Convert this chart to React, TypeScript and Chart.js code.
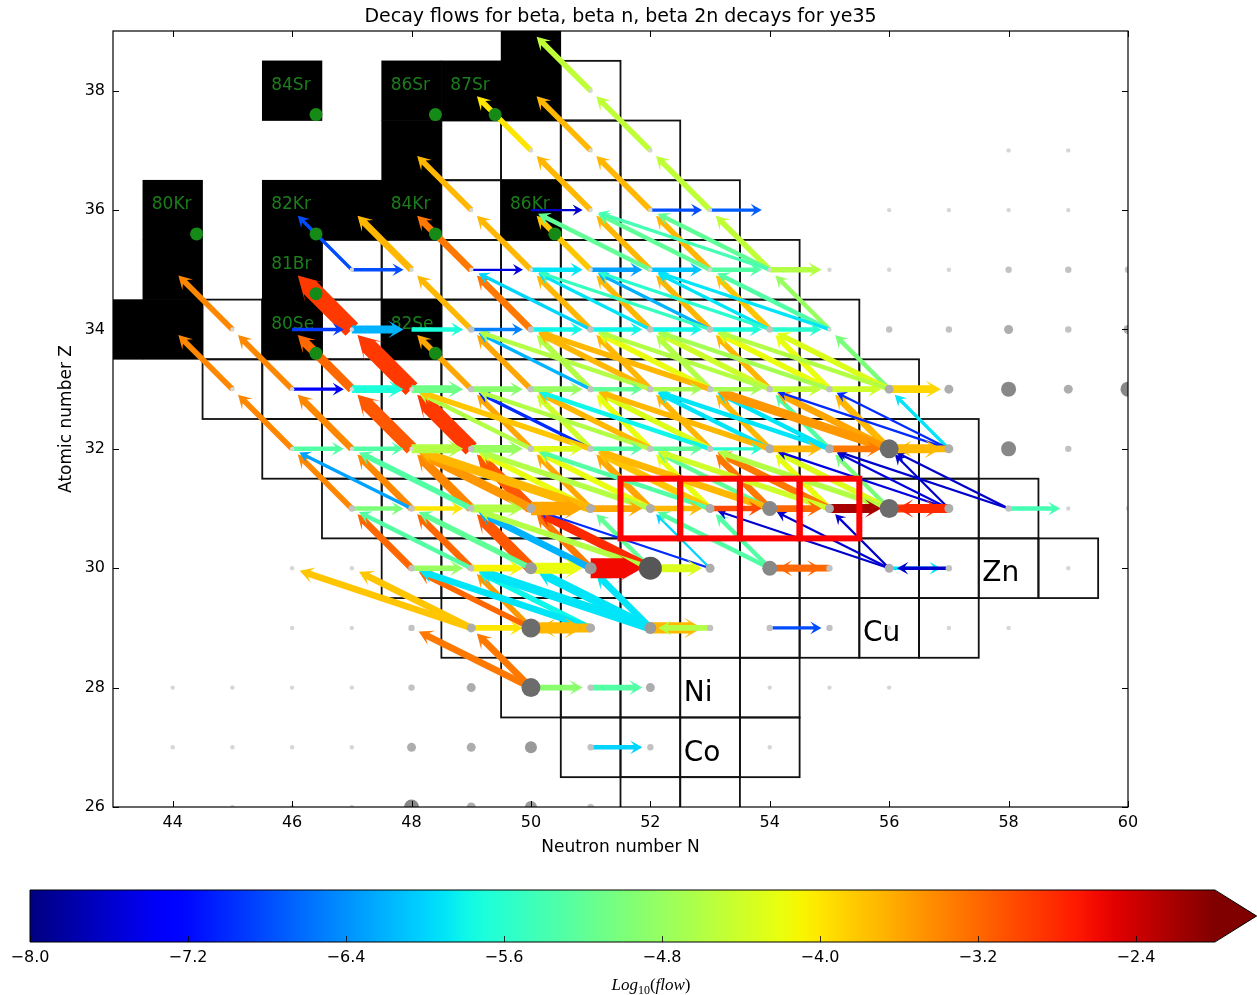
import React, { useEffect, useRef } from 'react';
import { Chart, registerables } from 'chart.js';
Chart.register(...registerables);

// ---------------- data ----------------
const X_MIN = 43, X_MAX = 60, Y_MIN = 26, Y_MAX = 39;
const X_TICKS = [44, 46, 48, 50, 52, 54, 56, 58, 60];
const Y_TICKS = [26, 28, 30, 32, 34, 36, 38];
const CB_MIN = -8, CB_MAX = -2;
const CB_TICKS = [-8.0, -7.2, -6.4, -5.6, -4.8, -4.0, -3.2, -2.4];

const TITLE = 'Decay flows for beta, beta n, beta 2n decays for ye35';
const X_TITLE = 'Neutron number N';
const Y_TITLE = 'Atomic number Z';

// stable nuclei (N, Z)
const STABLE_CELLS: number[][] = [
  [43, 34], [44, 34], [44, 35], [44, 36], [46, 34], [46, 35], [46, 36], [47, 36], [48, 36],
  [48, 37], [48, 38], [49, 38], [50, 38], [50, 39], [46, 38], [48, 34], [50, 36],
];
const STABLE_LABELS: [number, number, string][] = [
  [46, 38, '84Sr'], [48, 38, '86Sr'], [49, 38, '87Sr'], [44, 36, '80Kr'], [46, 36, '82Kr'],
  [48, 36, '84Kr'], [50, 36, '86Kr'], [46, 35, '81Br'], [46, 34, '80Se'], [48, 34, '82Se'],
];
const ELEMENT_LABELS: [number, number, string][] = [
  [58, 30, 'Zn'], [56, 29, 'Cu'], [53, 28, 'Ni'], [53, 27, 'Co'],
];
// network rows: Z, first N, last N
const BOX_ROWS: number[][] = [
  [38, 51, 51], [37, 49, 52], [36, 49, 53], [35, 47, 54], [34, 45, 55], [33, 45, 56], [32, 46, 57],
  [31, 47, 58], [30, 48, 59], [29, 49, 57], [28, 50, 54], [27, 51, 54], [26, 52, 53],
];
const HIGHLIGHT_CELLS: number[][] = [[52, 31], [53, 31], [54, 31], [55, 31]];

// flows: [N, Z, log10(flow), width]
const BETA: number[][] = [
  [51, 38, -4.5, 5],
  [52, 37, -4.5, 5], [51, 37, -3.7, 5], [50, 37, -4.0, 5],
  [53, 36, -4.5, 5], [52, 36, -3.7, 5], [51, 36, -3.7, 5], [49, 36, -3.7, 5],
  [54, 35, -4.5, 5], [53, 35, -3.7, 5], [52, 35, -3.7, 5], [51, 35, -3.8, 5], [50, 35, -3.7, 5], [49, 35, -3.3, 6], [48, 35, -3.7, 6], [47, 35, -6.8, 3],
  [55, 34, -4.8, 4], [54, 34, -3.8, 5], [53, 34, -3.7, 5], [52, 34, -3.7, 5], [51, 34, -3.7, 5], [50, 34, -3.3, 6], [49, 34, -3.7, 5], [47, 34, -2.9, 16], [45, 34, -3.4, 5],
  [56, 33, -5.0, 4], [55, 33, -4.2, 5], [54, 33, -3.7, 5], [53, 33, -4.6, 5], [52, 33, -3.7, 5], [51, 33, -4.6, 5], [50, 33, -3.6, 5], [49, 33, -3.6, 5], [48, 33, -2.9, 15], [47, 33, -3.2, 8], [46, 33, -3.4, 5], [45, 33, -3.4, 5],
  [57, 32, -5.9, 3], [56, 32, -3.7, 6], [55, 32, -5.3, 4], [54, 32, -3.7, 5], [53, 32, -3.7, 5], [52, 32, -4.2, 5], [51, 32, -4.4, 5], [50, 32, -3.6, 5], [49, 32, -2.9, 14], [48, 32, -3.1, 12], [47, 32, -3.4, 6], [46, 32, -3.4, 5],
  [57, 31, -7.6, 2], [56, 31, -5.0, 4], [55, 31, -4.2, 5], [54, 31, -3.3, 6], [53, 31, -4.2, 5], [52, 31, -3.6, 6], [51, 31, -3.6, 5], [50, 31, -3.1, 10], [49, 31, -3.4, 8], [48, 31, -3.4, 6], [47, 31, -3.4, 5],
  [56, 30, -7.6, 2], [54, 30, -5.3, 4], [53, 30, -6.0, 2], [52, 30, -5.2, 4], [51, 30, -3.3, 6], [50, 30, -3.1, 10], [49, 30, -3.2, 6], [48, 30, -3.2, 6],
  [52, 29, -5.9, 6], [50, 29, -3.5, 5],
  [50, 28, -3.3, 6],
];
const BETA_1N: number[][] = [
  [54, 35, -5.2, 4], [53, 35, -5.2, 4], [52, 35, -5.2, 4],
  [55, 34, -5.3, 4], [54, 34, -5.9, 3], [53, 34, -6.2, 3], [52, 34, -5.9, 3], [51, 34, -6.0, 3],
  [56, 33, -4.3, 5], [55, 33, -4.2, 5], [54, 33, -4.4, 5], [53, 33, -4.2, 5], [52, 33, -3.7, 5], [51, 33, -6.2, 3],
  [57, 32, -7.0, 2], [56, 32, -3.6, 6], [55, 32, -5.9, 4], [54, 32, -5.9, 4], [53, 32, -4.3, 5], [52, 32, -3.7, 5], [51, 32, -7.0, 3], [50, 32, -4.6, 4],
  [58, 31, -7.6, 2], [57, 31, -7.5, 2], [56, 31, -4.3, 5], [55, 31, -3.3, 6], [54, 31, -5.2, 4], [53, 31, -3.8, 6], [52, 31, -4.2, 5], [51, 31, -4.2, 5], [50, 31, -3.5, 8], [49, 31, -5.3, 5], [48, 31, -6.3, 3],
  [56, 30, -7.6, 2], [54, 30, -5.3, 4], [52, 30, -2.8, 8], [51, 30, -6.2, 6], [50, 30, -5.2, 5], [49, 30, -5.3, 4],
  [52, 29, -5.9, 8], [51, 29, -5.8, 5], [50, 29, -3.2, 5], [49, 29, -3.8, 6],
  [50, 28, -3.3, 6],
];
const BETA_2N: number[][] = [
  [54, 35, -5.4, 3],
  [55, 34, -5.9, 3], [54, 34, -5.6, 3], [53, 34, -5.5, 3],
  [56, 33, -4.6, 4], [55, 33, -4.7, 4], [54, 33, -4.6, 4], [53, 33, -3.7, 5], [52, 33, -4.6, 4],
  [57, 32, -7.0, 2], [56, 32, -3.5, 8], [55, 32, -5.9, 4], [54, 32, -3.7, 5], [53, 32, -5.8, 4], [52, 32, -4.6, 4], [51, 32, -3.8, 5],
  [58, 31, -7.6, 2], [57, 31, -7.5, 2], [56, 31, -4.6, 5], [55, 31, -4.4, 5], [54, 31, -3.7, 6], [53, 31, -5.3, 4], [52, 31, -4.6, 5], [51, 31, -3.7, 8],
  [56, 30, -7.6, 2], [53, 30, -7.0, 2], [52, 30, -4.6, 5],
  [52, 29, -5.9, 8], [51, 29, -5.9, 6], [49, 29, -3.8, 6],
];
const N_RIGHT: number[][] = [
  [50, 36, -7.6, 2], [52, 36, -6.8, 3], [53, 36, -6.7, 3],
  [47, 35, -6.8, 3], [49, 35, -7.5, 2], [50, 35, -5.9, 4], [51, 35, -6.3, 4], [52, 35, -6.1, 4], [53, 35, -5.3, 4], [54, 35, -4.6, 5],
  [46, 34, -6.9, 3], [47, 34, -6.2, 7], [48, 34, -5.7, 4], [49, 34, -6.5, 3], [50, 34, -5.8, 4], [51, 34, -5.8, 4], [52, 34, -5.8, 4], [53, 34, -5.7, 4], [54, 34, -5.6, 4],
  [46, 33, -7.3, 3], [47, 33, -5.7, 7], [48, 33, -5.1, 7], [49, 33, -4.9, 5], [50, 33, -4.8, 5], [51, 33, -5.2, 4], [52, 33, -4.7, 4], [53, 33, -4.7, 4], [54, 33, -4.5, 5], [55, 33, -4.4, 5], [56, 33, -3.9, 7],
  [46, 32, -5.3, 4], [47, 32, -5.3, 4], [48, 32, -4.6, 8], [49, 32, -4.8, 7], [50, 32, -4.3, 5], [51, 32, -5.3, 4], [52, 32, -5.2, 4], [53, 32, -5.6, 3], [54, 32, -3.7, 6], [55, 32, -3.3, 6], [56, 32, -3.7, 8],
  [47, 31, -5.0, 4], [48, 31, -4.0, 4], [49, 31, -4.6, 7], [50, 31, -3.6, 12], [51, 31, -3.6, 6], [52, 31, -3.7, 5], [53, 31, -3.0, 5], [54, 31, -3.2, 6], [55, 31, -2.2, 8], [56, 31, -2.9, 7], [58, 31, -5.4, 4],
  [48, 30, -4.8, 5], [49, 30, -4.1, 6], [50, 30, -4.2, 10], [51, 30, -2.6, 18], [52, 30, -4.3, 7], [54, 30, -3.2, 6], [56, 30, -5.9, 3],
  [49, 29, -4.0, 5], [50, 29, -3.7, 10], [52, 29, -3.7, 10], [54, 29, -6.8, 3],
  [50, 28, -4.9, 5], [51, 28, -5.3, 5],
  [51, 27, -6.0, 4],
];
const N_LEFT: number[][] = [
  [57, 32, -3.7, 6], [57, 31, -2.8, 8], [55, 30, -3.2, 6], [57, 30, -7.6, 3], [51, 29, -3.7, 8], [53, 29, -4.6, 5],
];

// abundance dots: [N, Z, size level]
const DOTS: number[][] = [
  [51, 38, 1], [50, 37, 1], [51, 37, 1], [52, 37, 1], [58, 37, 1], [59, 37, 1],
  [49, 36, 1], [51, 36, 1], [52, 36, 1], [53, 36, 1], [56, 36, 1], [57, 36, 1], [58, 36, 1], [59, 36, 1],
  [47, 35, 1], [48, 35, 1], [49, 35, 1], [50, 35, 1], [51, 35, 1], [52, 35, 1], [53, 35, 1], [54, 35, 1],
  [55, 35, 1], [56, 35, 1], [57, 35, 1], [58, 35, 2], [59, 35, 2], [60, 35, 2],
  [45, 34, 1], [47, 34, 1], [49, 34, 2], [50, 34, 2], [51, 34, 2], [52, 34, 2], [53, 34, 2], [54, 34, 2],
  [55, 34, 1], [56, 34, 2], [57, 34, 2], [58, 34, 3], [59, 34, 2], [60, 34, 3],
  [45, 33, 1], [46, 33, 1], [47, 33, 1], [48, 33, 1], [49, 33, 2], [50, 33, 2], [51, 33, 2], [52, 33, 2],
  [53, 33, 2], [54, 33, 2], [55, 33, 2], [56, 33, 3], [57, 33, 3], [58, 33, 5], [59, 33, 3], [60, 33, 5],
  [46, 32, 1], [47, 32, 1], [48, 32, 1], [49, 32, 2], [50, 32, 2], [51, 32, 2], [52, 32, 2], [53, 32, 2],
  [54, 32, 3], [55, 32, 3], [56, 32, 6], [57, 32, 3], [58, 32, 5], [59, 32, 2],
  [47, 31, 2], [48, 31, 2], [49, 31, 2], [50, 31, 3], [51, 31, 3], [52, 31, 3], [53, 31, 3], [54, 31, 5],
  [55, 31, 3], [56, 31, 6], [57, 31, 3], [58, 31, 2], [59, 31, 1], [60, 31, 1],
  [46, 30, 1], [47, 30, 1], [48, 30, 2], [49, 30, 2], [50, 30, 4], [51, 30, 4], [52, 30, 7], [53, 30, 3],
  [54, 30, 5], [55, 30, 2], [56, 30, 3], [57, 30, 2], [59, 30, 1],
  [46, 29, 1], [47, 29, 1], [48, 29, 2], [49, 29, 3], [50, 29, 6], [51, 29, 3], [52, 29, 4], [53, 29, 2],
  [54, 29, 2], [55, 29, 2], [56, 29, 1], [57, 29, 1], [58, 29, 1],
  [44, 28, 1], [45, 28, 1], [46, 28, 1], [47, 28, 1], [48, 28, 2], [49, 28, 3], [50, 28, 6], [51, 28, 2],
  [52, 28, 3], [54, 28, 1], [55, 28, 1], [56, 28, 1],
  [44, 27, 1], [45, 27, 1], [46, 27, 1], [47, 27, 1], [48, 27, 3], [49, 27, 3], [50, 27, 4], [51, 27, 2],
  [52, 27, 2], [54, 27, 1],
  [45, 26, 1], [46, 26, 1], [47, 26, 1], [48, 26, 5], [49, 26, 3], [50, 26, 4], [51, 26, 2],
];

// ---------------- styles ----------------
const FONT = "'DejaVu Sans', 'Liberation Sans', sans-serif";
const DOT_R = [0, 2.2, 3.2, 4.5, 6, 7.5, 9.5, 11.5];
const DOT_C = ['#fff', '#d6d6d6', '#c2c2c2', '#adadad', '#9a9a9a', '#888888', '#6c6c6c', '#575757'];
const SHAFT_SCALE = 1.12;

function seg(t: number, xs: number[], ys: number[]) {
  if (t <= xs[0]) return ys[0];
  for (let i = 1; i < xs.length; i++) {
    if (t <= xs[i]) {
      const f = (t - xs[i - 1]) / (xs[i] - xs[i - 1]);
      return ys[i - 1] + f * (ys[i] - ys[i - 1]);
    }
  }
  return ys[ys.length - 1];
}
function jet(t: number) {
  t = Math.max(0, Math.min(1, t));
  const r = seg(t, [0, 0.35, 0.66, 0.89, 1], [0, 0, 1, 1, 0.5]);
  const g = seg(t, [0, 0.125, 0.375, 0.64, 0.91, 1], [0, 0, 1, 1, 0, 0]);
  const b = seg(t, [0, 0.11, 0.34, 0.65, 1], [0.5, 1, 1, 0, 0]);
  return `rgb(${Math.round(r * 255)},${Math.round(g * 255)},${Math.round(b * 255)})`;
}
function flowColor(v: number) {
  return jet((v - CB_MIN) / (CB_MAX - CB_MIN));
}

function drawArrow(ctx: CanvasRenderingContext2D, x0: number, y0: number, x1: number, y1: number, width: number, color: string) {
  const w = width * SHAFT_SCALE;
  const dx = x1 - x0, dy = y1 - y0;
  const L = Math.hypot(dx, dy);
  const ux = dx / L, uy = dy / L;
  const nx = -uy, ny = ux;
  const gap = 8;
  const tx = x1 - ux * gap, ty = y1 - uy * gap;
  const hw = width * 1.2 + 9;
  const hl = hw * 0.88;
  const notch = hl * 0.7;
  const bx = tx - ux * hl, by = ty - uy * hl;
  const sx = tx - ux * notch, sy = ty - uy * notch;
  ctx.fillStyle = color;
  ctx.beginPath();
  ctx.moveTo(x0 + nx * w / 2, y0 + ny * w / 2);
  ctx.lineTo(sx + nx * w / 2, sy + ny * w / 2);
  ctx.lineTo(bx + nx * hw / 2, by + ny * hw / 2);
  ctx.lineTo(tx, ty);
  ctx.lineTo(bx - nx * hw / 2, by - ny * hw / 2);
  ctx.lineTo(sx - nx * w / 2, sy - ny * w / 2);
  ctx.lineTo(x0 - nx * w / 2, y0 - ny * w / 2);
  ctx.closePath();
  ctx.fill();
}

const mapPlugin = {
  id: 'nuclideMap',
  beforeDatasetsDraw(chart: any) {
    const { ctx, chartArea: a, scales } = chart;
    const xs = scales.x, ys = scales.y;
    const px = (n: number) => xs.getPixelForValue(n);
    const py = (z: number) => ys.getPixelForValue(z);
    const cell = (n: number, z: number) => {
      const l = px(n - 0.5), r = px(n + 0.5), t = py(z + 0.5), b = py(z - 0.5);
      return [l, t, r - l, b - t];
    };
    ctx.save();
    ctx.beginPath();
    ctx.rect(a.left, a.top, a.right - a.left, a.bottom - a.top);
    ctx.clip();

    // network boxes
    ctx.strokeStyle = '#111';
    ctx.lineWidth = 1.8;
    for (const [z, n0, n1] of BOX_ROWS) {
      for (let n = n0; n <= n1; n++) {
        const [l, t, w, h] = cell(n, z);
        ctx.strokeRect(l, t, w, h);
      }
    }
    // stable nuclei
    ctx.fillStyle = '#000';
    for (const [n, z] of STABLE_CELLS) {
      const [l, t, w, h] = cell(n, z);
      ctx.fillRect(l - 0.3, t - 0.3, w + 0.6, h + 0.6);
    }
    ctx.font = `17px ${FONT}`;
    ctx.fillStyle = '#1c7d1c';
    ctx.textBaseline = 'middle';
    ctx.textAlign = 'left';
    for (const [n, z, s] of STABLE_LABELS) {
      ctx.fillText(s, px(n - 0.35), py(z + 0.09));
    }
    // element labels
    ctx.font = `28px ${FONT}`;
    ctx.fillStyle = '#000';
    for (const [n, z, s] of ELEMENT_LABELS) {
      ctx.fillText(s, px(n - 0.44), py(z - 0.1));
    }
    // flows
    const draw = (list: number[][], dn: number, dz: number) => {
      for (const [n, z, v, w] of list) {
        drawArrow(ctx, px(n), py(z), px(n + dn), py(z + dz), w, flowColor(v));
      }
    };
    draw(BETA, -1, 1);
    draw(BETA_1N, -2, 1);
    draw(BETA_2N, -3, 1);
    draw(N_RIGHT, 1, 0);
    draw(N_LEFT, -1, 0);
    // highlighted cells
    ctx.strokeStyle = '#ff0000';
    ctx.lineWidth = 6;
    for (const [n, z] of HIGHLIGHT_CELLS) {
      const [l, t, w, h] = cell(n, z);
      ctx.strokeRect(l, t, w, h);
    }
    ctx.restore();
  },
  afterDraw(chart: any) {
    const { ctx, chartArea: a, scales } = chart;
    const xs = scales.x, ys = scales.y;
    ctx.save();
    ctx.strokeStyle = '#000';
    ctx.lineWidth = 1.2;
    ctx.strokeRect(a.left, a.top, a.right - a.left, a.bottom - a.top);
    ctx.lineWidth = 1;
    ctx.beginPath();
    for (const v of X_TICKS) {
      const x = Math.round(xs.getPixelForValue(v)) + 0.5;
      ctx.moveTo(x, a.bottom); ctx.lineTo(x, a.bottom - 6);
      ctx.moveTo(x, a.top); ctx.lineTo(x, a.top + 6);
    }
    for (const v of Y_TICKS) {
      const y = Math.round(ys.getPixelForValue(v)) + 0.5;
      ctx.moveTo(a.left, y); ctx.lineTo(a.left + 6, y);
      ctx.moveTo(a.right, y); ctx.lineTo(a.right - 6, y);
    }
    ctx.stroke();
    ctx.fillStyle = '#000';
    ctx.textAlign = 'center';
    ctx.textBaseline = 'middle';
    ctx.font = `19px ${FONT}`;
    ctx.fillText(TITLE, (a.left + a.right) / 2, 17);
    ctx.font = `17px ${FONT}`;
    ctx.fillText(X_TITLE, (a.left + a.right) / 2, 848);
    ctx.translate(67, (a.top + a.bottom) / 2);
    ctx.rotate(-Math.PI / 2);
    ctx.fillText(Y_TITLE, 0, 0);
    ctx.restore();
  },
};

const colorbarPlugin = {
  id: 'colorbar',
  beforeDatasetsDraw(chart: any) {
    const { ctx, chartArea: a, scales } = chart;
    const xs = scales.x;
    ctx.save();
    const g = ctx.createLinearGradient(a.left, 0, a.right, 0);
    for (let i = 0; i <= 60; i++) g.addColorStop(i / 60, jet(i / 60));
    ctx.fillStyle = g;
    ctx.fillRect(a.left, a.top, a.right - a.left, a.bottom - a.top);
    const tipX = chart.width;
    const midY = (a.top + a.bottom) / 2;
    ctx.fillStyle = 'rgb(128,0,0)';
    ctx.beginPath();
    ctx.moveTo(a.right - 0.5, a.top);
    ctx.lineTo(tipX, midY);
    ctx.lineTo(a.right - 0.5, a.bottom);
    ctx.closePath();
    ctx.fill();
    ctx.strokeStyle = '#000';
    ctx.lineWidth = 1;
    ctx.beginPath();
    ctx.moveTo(a.left, a.top);
    ctx.lineTo(a.right, a.top);
    ctx.lineTo(tipX - 0.5, midY);
    ctx.lineTo(a.right, a.bottom);
    ctx.lineTo(a.left, a.bottom);
    ctx.closePath();
    ctx.stroke();
    ctx.beginPath();
    ctx.strokeStyle = 'rgba(0,0,0,0.8)';
    for (const v of CB_TICKS) {
      const x = Math.round(xs.getPixelForValue(v)) + 0.5;
      ctx.moveTo(x, a.bottom); ctx.lineTo(x, a.bottom - 6);
    }
    ctx.stroke();
    // label  Log10(flow)
    const parts: [string, string, number][] = [
      ['Log', 'italic 17px "Liberation Serif", "DejaVu Serif", serif', 0],
      ['10', '12px "Liberation Serif", "DejaVu Serif", serif', 4],
      ['(', '17px "Liberation Serif", "DejaVu Serif", serif', 0],
      ['flow', 'italic 17px "Liberation Serif", "DejaVu Serif", serif', 0],
      [')', '17px "Liberation Serif", "DejaVu Serif", serif', 0],
    ];
    let total = 0;
    for (const [s, f] of parts) { ctx.font = f; total += ctx.measureText(s).width; }
    let x = 651 - total / 2;
    ctx.fillStyle = '#000';
    ctx.textAlign = 'left';
    ctx.textBaseline = 'alphabetic';
    for (const [s, f, dy] of parts) {
      ctx.font = f;
      ctx.fillText(s, x, 120 + dy);
      x += ctx.measureText(s).width;
    }
    ctx.restore();
  },
};

export default function App() {
  const mainRef = useRef<HTMLCanvasElement>(null);
  const cbRef = useRef<HTMLCanvasElement>(null);

  useEffect(() => {
    const tickFont = { family: FONT, size: 16 };
    const main = new Chart(mainRef.current as HTMLCanvasElement, {
      type: 'scatter',
      data: {
        datasets: [
          {
            data: STABLE_LABELS.map((s) => ({ x: s[0] + 0.4, y: s[1] - 0.4 })),
            pointRadius: 6.5,
            pointBackgroundColor: '#168a16',
            pointBorderWidth: 0,
            clip: 0,
          } as any,
          {
            data: DOTS.map((d) => ({ x: d[0], y: d[1] })),
            pointRadius: DOTS.map((d) => DOT_R[d[2]]),
            pointBackgroundColor: DOTS.map((d) => DOT_C[d[2]]),
            pointBorderWidth: 0,
            clip: 0,
          } as any,
        ],
      },
      options: {
        responsive: false,
        animation: false,
        devicePixelRatio: 1,
        events: [],
        layout: { padding: { left: 0, top: 31, right: 129, bottom: 0 } },
        plugins: { legend: { display: false }, tooltip: { enabled: false }, title: { display: false } },
        scales: {
          x: {
            type: 'linear', min: X_MIN, max: X_MAX,
            afterBuildTicks: (s: any) => { s.ticks = X_TICKS.map((v) => ({ value: v })); },
            afterFit: (s: any) => { s.height = 63; },
            grid: { display: false, drawTicks: false },
            border: { display: false },
            ticks: { font: tickFont, color: '#000', padding: 6, maxRotation: 0 },
          },
          y: {
            type: 'linear', min: Y_MIN, max: Y_MAX,
            afterBuildTicks: (s: any) => { s.ticks = Y_TICKS.map((v) => ({ value: v })); },
            afterFit: (s: any) => { s.width = 113; },
            grid: { display: false, drawTicks: false },
            border: { display: false },
            ticks: { font: tickFont, color: '#000', padding: 8 },
          },
        },
      } as any,
      plugins: [mapPlugin],
    });

    const cb = new Chart(cbRef.current as HTMLCanvasElement, {
      type: 'scatter',
      data: { datasets: [] },
      options: {
        responsive: false,
        animation: false,
        devicePixelRatio: 1,
        events: [],
        layout: { padding: { left: 30, top: 20, right: 42, bottom: 0 } },
        plugins: { legend: { display: false }, tooltip: { enabled: false } },
        scales: {
          x: {
            type: 'linear', min: CB_MIN, max: CB_MAX,
            afterBuildTicks: (s: any) => { s.ticks = CB_TICKS.map((v) => ({ value: v })); },
            afterFit: (s: any) => { s.height = 53; },
            grid: { display: false, drawTicks: false },
            border: { display: false },
            ticks: {
              font: tickFont, color: '#000', padding: 6, maxRotation: 0,
              callback: (v: any) => Number(v).toFixed(1).replace('-', '\u2212'),
            },
          },
          y: { display: false, min: 0, max: 1 },
        },
      } as any,
      plugins: [colorbarPlugin],
    });

    return () => {
      main.destroy();
      cb.destroy();
    };
  }, []);

  return (
    <div style={{ position: 'absolute', left: 0, top: 0, width: 1257, height: 995, background: '#fff' }}>
      <canvas ref={mainRef} width={1257} height={870} style={{ position: 'absolute', left: 0, top: 0, width: 1257, height: 870 }} />
      <canvas ref={cbRef} width={1257} height={125} style={{ position: 'absolute', left: 0, top: 870, width: 1257, height: 125 }} />
    </div>
  );
}
